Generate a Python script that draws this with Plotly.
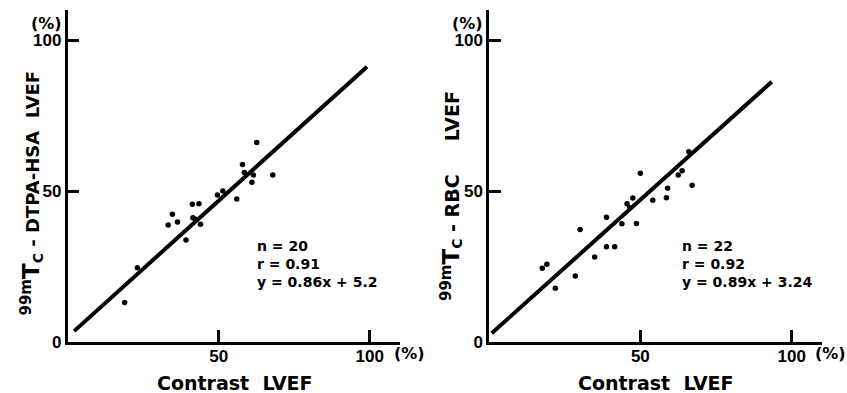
import plotly.graph_objects as go

W, H = 847, 393

# Left panel: 99mTc-DTPA-HSA vs contrast LVEF
hsa_x = [62.6, 57.9, 58.5, 61.5, 67.9, 61.0, 56.0, 49.6, 51.4, 41.3,
         43.5, 34.7, 36.4, 33.3, 42.3, 44.0, 39.2, 23.1, 18.9, 41.5]
hsa_y = [66.1, 58.8, 56.2, 55.3, 55.3, 52.9, 47.4, 48.7, 50.0, 45.6,
         45.8, 42.3, 39.8, 38.8, 40.7, 39.0, 33.8, 24.6, 13.1, 41.2]
hsa_line_x = [2.2, 99.1]
hsa_line_y = [3.6, 91.2]
hsa_stats = ["n = 20", "r = 0.91", "y = 0.86x + 5.2"]

# Right panel: 99mTc-RBC vs contrast LVEF
rbc_x = [66.0, 63.8, 62.5, 67.1, 50.0, 59.0, 58.6, 54.1, 47.5, 45.6, 43.9,
         48.7, 38.8, 30.1, 38.8, 41.5, 34.9, 28.5, 17.6, 19.1, 21.9, 46.5]
rbc_y = [63.0, 56.7, 55.3, 51.9, 55.9, 50.9, 47.8, 47.0, 47.7, 45.8, 39.2,
         39.3, 41.3, 37.3, 31.6, 31.6, 28.2, 21.9, 24.4, 25.8, 17.8, 44.5]
rbc_line_x = [0.9, 93.4]
rbc_line_y = [2.9, 86.2]
rbc_stats = ["n = 22", "r = 0.92", "y = 0.89x + 3.24"]

x_ticks = [50, 100]
y_ticks = [0, 50, 100]
axis_range = [0, 110]

NB = "\u00a0"
TC = ('<sup><span style="font-size:15px">99m</span></sup>'
      '<span style="font-size:23px">T</span>'
      '<sub><span style="font-size:14px">C</span></sub>')
x_title = "Contrast" + NB * 2 + "LVEF"
hsa_title = TC + '<span style="font-size:18px"> - DTPA-HSA' + NB * 2 + 'LVEF</span>'
rbc_title = TC + '<span style="font-size:19px"> - RBC' + NB * 5 + 'LVEF</span>'


def px(x):
    return x / W


def py(y):
    return 1 - y / H


TICKFONT = "Liberation Sans"
TEXTFONT = "DejaVu Sans"
fig = go.Figure()

panels = [
    dict(xa="x", ya="y", x0=67.5, x1=400, xs=hsa_x, ys=hsa_y, lx=hsa_line_x, ly=hsa_line_y,
         stats=hsa_stats, title=hsa_title, tx=31, ttop=69, sx=255),
    dict(xa="x2", ya="y2", x0=489, x1=822, xs=rbc_x, ys=rbc_y, lx=rbc_line_x, ly=rbc_line_y,
         stats=rbc_stats, title=rbc_title, tx=451, ttop=89, sx=680),
]

top, bottom = 10, 342
annotations = []
for i, p in enumerate(panels):
    fig.add_trace(go.Scatter(x=p["lx"], y=p["ly"], mode="lines", xaxis=p["xa"], yaxis=p["ya"],
                             line=dict(color="black", width=4), showlegend=False))
    fig.add_trace(go.Scatter(x=p["xs"], y=p["ys"], mode="markers", xaxis=p["xa"], yaxis=p["ya"],
                             marker=dict(color="black", size=5.5), showlegend=False))
    sfx = "" if i == 0 else "2"
    axis_common = dict(range=axis_range, showline=True, linecolor="black", linewidth=2.5,
                       ticks="inside", ticklen=12, tickwidth=2.5, tickcolor="black",
                       showgrid=False, zeroline=False, automargin=False,
                       tickfont=dict(family=TICKFONT, size=17, color="black", weight="bold"))
    fig.update_layout({
        "xaxis" + sfx: dict(axis_common, domain=[px(p["x0"]), px(p["x1"])], anchor="y" + sfx,
                            tickvals=x_ticks, ticktext=[str(v) for v in x_ticks],
                            ticklabelstandoff=-3),
        "yaxis" + sfx: dict(axis_common, domain=[py(bottom), py(top)], anchor="x" + sfx,
                            tickvals=y_ticks, ticktext=[str(v) for v in y_ticks]),
    })
    # (%) labels
    annotations.append(dict(text="(%)", x=px(p["x0"] - 21), y=py(23), xref="paper", yref="paper",
                            showarrow=False, xanchor="center", yanchor="middle",
                            font=dict(family=TEXTFONT, size=16, color="black", weight="bold")))
    annotations.append(dict(text="(%)", x=px(p["x0"] + 100 * 3.02 + 22), y=py(353), xref="paper",
                            yref="paper", xanchor="left", yanchor="middle", showarrow=False,
                            font=dict(family=TEXTFONT, size=16, color="black", weight="bold")))
    # axis titles
    annotations.append(dict(text=x_title, x=px(p["x0"] + 167), y=py(383), xref="paper", yref="paper",
                            showarrow=False, xanchor="center", yanchor="middle",
                            font=dict(family=TEXTFONT, size=19, color="black", weight="bold")))
    annotations.append(dict(text=p["title"], x=px(p["tx"]), y=py(p["ttop"]), xref="paper", yref="paper",
                            showarrow=False, textangle=-90, xanchor="center", yanchor="top",
                            font=dict(family=TEXTFONT, size=18, color="black", weight="bold")))
    # stats
    annotations.append(dict(text="<br>".join(p["stats"]), x=px(p["sx"]), y=py(236), xref="paper",
                            yref="paper", showarrow=False, xanchor="left", yanchor="top", align="left",
                            font=dict(family=TEXTFONT, size=14, color="black", weight="bold")))

fig.update_layout(width=W, height=H, margin=dict(l=0, r=0, t=0, b=0),
                  paper_bgcolor="white", plot_bgcolor="white",
                  annotations=annotations)

fig.write_html("out.html", config={"displayModeBar": False},
               post_script="document.body.style.margin='0px';")
